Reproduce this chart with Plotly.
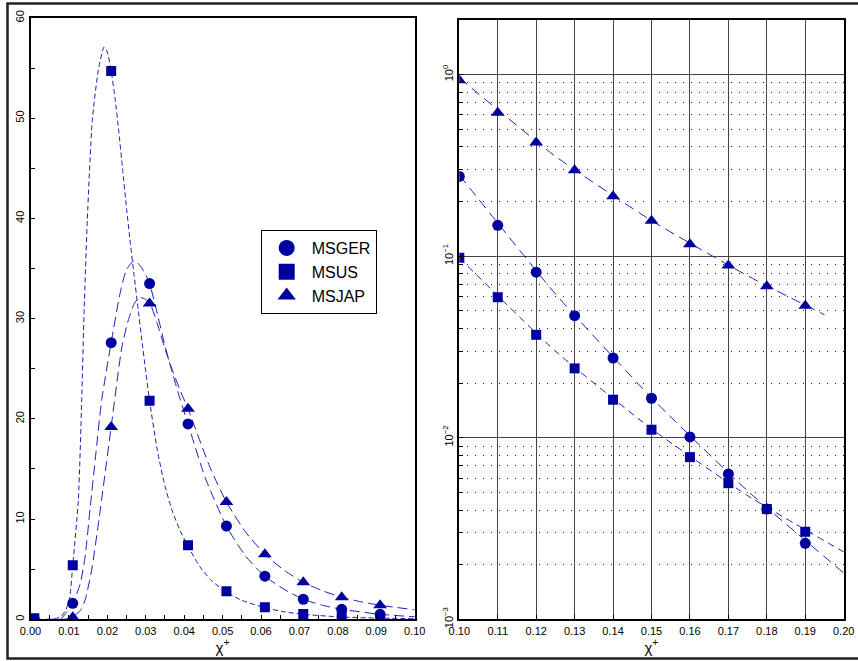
import plotly.graph_objects as go

W, H = 858, 661

# ---------------- data (left panel: linear) ----------------
x_left = [0.001, 0.011, 0.021, 0.031, 0.041, 0.051, 0.061, 0.071, 0.081, 0.091]
ger_left = [0.0, 1.6, 27.6, 33.5, 19.5, 9.3, 4.3, 2.0, 1.0, 0.5]
us_left = [0.1, 5.4, 54.7, 21.8, 7.4, 2.8, 1.2, 0.53, 0.27, 0.1]
jap_left = [None, 0.2, 19.2, 31.5, 21.0, 11.7, 6.5, 3.7, 2.2, 1.4]

# fitted curves (left panel)
fit_us_x = [0.0, 0.006, 0.008, 0.009, 0.0101, 0.011, 0.01245, 0.01333, 0.01397, 0.01479,
            0.01609, 0.01766, 0.01914, 0.020, 0.021, 0.022, 0.023, 0.024, 0.025, 0.026,
            0.027, 0.028, 0.029, 0.030, 0.031, 0.033, 0.035, 0.037, 0.039, 0.041, 0.044,
            0.047, 0.051, 0.055, 0.061, 0.066, 0.071, 0.080, 0.090, 0.100]
fit_us_y = [0.0, 0.0, 0.3, 0.8, 1.9, 5.4, 11.9, 21.9, 31.0, 39.9,
            49.8, 54.8, 57.1, 56.6, 54.7, 52.0, 48.6, 44.8, 41.0, 37.5,
            34.2, 31.0, 27.8, 24.7, 21.8, 16.9, 13.3, 10.7, 8.8, 7.3, 5.3,
            3.9, 2.7, 1.9, 1.15, 0.75, 0.5, 0.25, 0.12, 0.06]

fit_ger_x = [0.0, 0.006, 0.008, 0.0094, 0.011, 0.0129, 0.0142, 0.0155, 0.0170, 0.01854,
             0.021, 0.0233, 0.025, 0.0270, 0.0285, 0.0298, 0.031, 0.033, 0.035, 0.037,
             0.039, 0.041, 0.0454, 0.051, 0.056, 0.061, 0.066, 0.071, 0.076, 0.081,
             0.091, 0.100]
fit_ger_y = [0.0, 0.0, 0.1, 0.7, 1.6, 3.5, 6.2, 11.0, 16.5, 21.9,
             27.6, 32.5, 34.9, 35.8, 35.3, 34.5, 33.5, 30.5, 27.3, 24.5,
             21.9, 19.5, 14.2, 9.3, 6.3, 4.3, 3.0, 2.0, 1.4, 1.0,
             0.5, 0.25]

fit_jap_x = [0.0, 0.008, 0.010, 0.011, 0.013, 0.0142, 0.0159, 0.0178, 0.021, 0.0238,
             0.0255, 0.0270, 0.0283, 0.0296, 0.031, 0.033, 0.035, 0.037, 0.039, 0.041,
             0.0441, 0.047, 0.051, 0.056, 0.061, 0.066, 0.071, 0.076, 0.081, 0.086,
             0.091, 0.100]
fit_jap_y = [0.0, 0.0, 0.05, 0.2, 0.9, 1.9, 4.9, 9.9, 19.2, 27.2,
             29.9, 31.5, 32.1, 32.0, 31.6, 29.5, 27.0, 24.8, 22.8, 21.0,
             17.8, 14.9, 11.7, 8.7, 6.5, 4.9, 3.7, 2.85, 2.2, 1.75,
             1.4, 0.95]

# ---------------- data (right panel: log) ----------------
x_right = [0.10, 0.11, 0.12, 0.13, 0.14, 0.15, 0.16, 0.17, 0.18, 0.19]
ger_right = [0.275, 0.148, 0.0816, 0.047, 0.0275, 0.0165, 0.0101, 0.00632, 0.00405, 0.00262]
us_right = [0.098, 0.0594, 0.0369, 0.0241, 0.0162, 0.01107, 0.00782, 0.00562, 0.00405, 0.00304]
jap_right = [0.93, 0.617, 0.423, 0.297, 0.214, 0.157, 0.1165, 0.0889, 0.0683, 0.0534]

fit_r_ger_x = [0.10, 0.125, 0.15, 0.175, 0.20]
fit_r_ger_y = [0.28, 0.062, 0.0166, 0.0051, 0.0018]
fit_r_us_x = [0.10, 0.125, 0.15, 0.175, 0.20]
fit_r_us_y = [0.098, 0.030, 0.0112, 0.0048, 0.00235]
fit_r_jap_x = [0.10, 0.125, 0.15, 0.175, 0.195]
fit_r_jap_y = [0.96, 0.355, 0.157, 0.078, 0.0476]

series_names = ["MSGER", "MSUS", "MSJAP"]
symbols = ["circle", "square", "triangle-up"]

MARK = "#0000a0"
LINE = "#1f1fb4"
FONT = "Liberation Sans"

fig = go.Figure()

# left fitted curves
for fx, fy, dash in [(fit_us_x, fit_us_y, "5px,3px"),
                     (fit_ger_x, fit_ger_y, "10px,5px"),
                     (fit_jap_x, fit_jap_y, "10px,5px")]:
    fig.add_trace(go.Scatter(x=fx, y=fy, mode="lines", xaxis="x", yaxis="y",
                             line=dict(color=LINE, width=1, dash=dash, shape="spline", smoothing=0.6),
                             showlegend=False, hoverinfo="skip"))

# right fitted lines
for fx, fy, dash in [(fit_r_us_x, fit_r_us_y, "7px,5px"),
                     (fit_r_ger_x, fit_r_ger_y, "10px,6px"),
                     (fit_r_jap_x, fit_r_jap_y, "10px,6px")]:
    fig.add_trace(go.Scatter(x=fx, y=fy, mode="lines", xaxis="x2", yaxis="y2",
                             line=dict(color=LINE, width=1, dash=dash, shape="spline", smoothing=0.5),
                             showlegend=False, hoverinfo="skip"))

sizes = [11, 10, 12]
for vals_l, vals_r, sym, sz in zip([ger_left, us_left, jap_left],
                                   [ger_right, us_right, jap_right], symbols, sizes):
    fig.add_trace(go.Scatter(x=x_left, y=vals_l, mode="markers", xaxis="x", yaxis="y",
                             marker=dict(symbol=sym, size=sz, color=MARK), showlegend=False))
    fig.add_trace(go.Scatter(x=x_right, y=vals_r, mode="markers", xaxis="x2", yaxis="y2",
                             marker=dict(symbol=sym, size=sz, color=MARK), showlegend=False))

# legend entries
for name, sym in zip(series_names, symbols):
    fig.add_trace(go.Scatter(x=[None], y=[None], mode="markers", name=name, xaxis="x", yaxis="y",
                             marker=dict(symbol=sym, size=16, color=MARK)))

def px_x(p):
    return p / W

def px_y(p):
    return (H - p) / H

tickfont = dict(family=FONT, size=11, color="black")

common_axis = dict(showline=True, linecolor="black", linewidth=2, mirror=True,
                   ticks="inside", tickcolor="black", ticklen=4, tickfont=tickfont,
                   zeroline=False, automargin=False)

minor_y_vals = []
for e in [-3, -2, -1, 0]:
    for m in range(2, 10):
        v = m * 10.0 ** e
        if v < 2.0:
            minor_y_vals.append(v)

fig.update_layout(
    width=W, height=H, autosize=False,
    margin=dict(l=0, r=0, t=0, b=0, pad=0),
    paper_bgcolor="white", plot_bgcolor="white",
    font=dict(family=FONT, color="black"),
    xaxis=dict(domain=[px_x(30.5), px_x(414.7)], range=[0, 0.1], anchor="y",
               tick0=0, dtick=0.01, tickformat=".2f", showgrid=False,
               minor=dict(dtick=0.005, ticks="inside", ticklen=4, tickcolor="black"),
               title=dict(text="χ<sup>+</sup>", font=dict(family=FONT, size=15), standoff=5),
               **common_axis),
    yaxis=dict(domain=[px_y(619.3), px_y(18)], range=[0, 60], anchor="x",
               tick0=0, dtick=10, tickangle=-90, showgrid=False,
               minor=dict(dtick=5, ticks="inside", ticklen=4, tickcolor="black"),
               **common_axis),
    xaxis2=dict(domain=[px_x(459.3), px_x(843.7)], range=[0.10, 0.20], anchor="y2",
                tick0=0.10, dtick=0.01, tickformat=".2f",
                showgrid=True, gridcolor="#444444", gridwidth=1.4,
                title=dict(text="χ<sup>+</sup>", font=dict(family=FONT, size=15), standoff=5),
                **common_axis),
    yaxis2=dict(domain=[px_y(619.3), px_y(20)], type="log", range=[-3, 0.301], anchor="x2",
                tickmode="array", tickvals=[0.001, 0.01, 0.1, 1],
                ticktext=["10<sup>−3</sup>", "10<sup>−2</sup>", "10<sup>−1</sup>", "10<sup>0</sup>"],
                tickangle=-90,
                showgrid=True, gridcolor="#444444", gridwidth=1.4,
                minor=dict(tickmode="array", tickvals=minor_y_vals, ticks="inside", ticklen=4,
                           tickcolor="black", showgrid=True, gridcolor="#222222",
                           griddash="1px,7px", gridwidth=1),
                **common_axis),
    legend=dict(x=px_x(260.7), y=px_y(230), xanchor="left", yanchor="top",
                bgcolor="white", bordercolor="black", borderwidth=1,
                font=dict(family=FONT, size=16, color="black"),
                itemsizing="trace", itemwidth=40, tracegroupgap=0),
    shapes=[dict(type="rect", xref="paper", yref="paper",
                 x0=px_x(7.5), x1=1.02, y0=px_y(658.5), y1=px_y(3.5),
                 line=dict(color="#222222", width=2.5), fillcolor="rgba(0,0,0,0)", layer="above")],
)

fig.write_html("out.html",
               config={"displayModeBar": False},
               post_script="document.body.style.margin='0px';document.body.style.padding='0px';"
                           "document.body.style.overflow='hidden';")
